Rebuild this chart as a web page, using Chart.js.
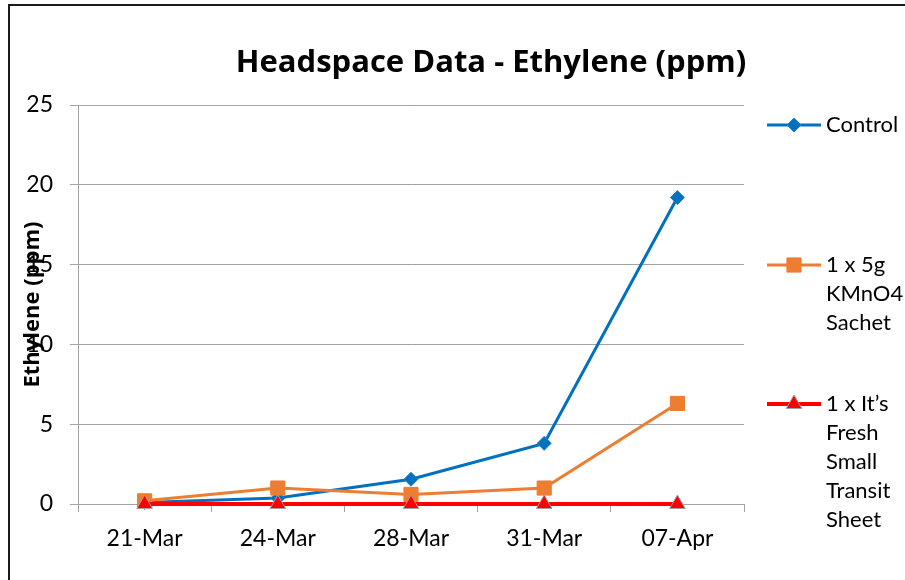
<!DOCTYPE html>
<html>
<head>
<meta charset="utf-8">
<script src="https://cdn.jsdelivr.net/npm/chart.js@4.4.1/dist/chart.umd.min.js"></script>
<style>
  html, body { margin: 0; padding: 0; background: #fff; overflow: hidden; }
  #wrap { position: relative; width: 905px; height: 580px; }
  #frame { position: absolute; left: 8px; top: 4px; width: 920px; height: 600px;
           border: 2px solid #1a1a1a; pointer-events: none; }
</style>
</head>
<body>
<div id="wrap">
  <canvas id="chart" width="905" height="580"></canvas>
  <div id="frame"></div>
</div>
<script>
// ==================== DATA ====================
const DATES = ['21-Mar', '24-Mar', '28-Mar', '31-Mar', '07-Apr'];
const CONTROL = [0.1, 0.37, 1.55, 3.8, 19.2];
const KMNO4 = [0.2, 1.0, 0.6, 1.0, 6.3];
const ITS_FRESH = [0, 0, 0, 0, 0];
const SERIES_NAMES = ['Control', '1 x 5g KMnO4 Sachet', '1 x It\u2019s Fresh Small Transit Sheet'];
const Y_TICKS = [0, 5, 10, 15, 20, 25];

const TITLE = 'Headspace Data - Ethylene (ppm)';
const Y_TITLE = 'Ethylene (ppm)';
const FONT = 'Lato, "Open Sans", sans-serif';
const BOLD_FONT = '"Open Sans", Lato, sans-serif';
const GRID = '#a3a3a3';

// ==================== EXTRA DRAWING ====================
// title, overlapping y-axis title and wrapped legend, Excel style
const extras = {
  id: 'extras',
  afterDraw(chart) {
    const ctx = chart.ctx;
    const area = chart.chartArea;
    ctx.save();
    ctx.fillStyle = '#000';

    // chart title
    ctx.font = 'bold 31px ' + BOLD_FONT;
    ctx.textAlign = 'center';
    ctx.textBaseline = 'middle';
    ctx.fillText(TITLE, 491, 63);

    // y axis title (sits over the tick labels like in the source)
    ctx.save();
    ctx.translate(33, (area.top + area.bottom) / 2);
    ctx.rotate(-Math.PI / 2);
    ctx.font = 'bold 22px ' + BOLD_FONT;
    ctx.fillText(Y_TITLE, 0, 0);
    ctx.restore();

    // legend
    ctx.font = '22px ' + FONT;
    ctx.textAlign = 'left';
    const rowsY = [125, 265, 404];
    chart.data.datasets.forEach((ds, i) => {
      const y = rowsY[i];
      ctx.strokeStyle = ds.borderColor;
      ctx.lineWidth = ds.borderWidth;
      ctx.beginPath();
      ctx.moveTo(767, y);
      ctx.lineTo(821, y);
      ctx.stroke();
      ctx.fillStyle = ds.pointBackgroundColor;
      ctx.strokeStyle = ds.pointBorderColor;
      ctx.lineWidth = ds.pointBorderWidth;
      Chart.helpers.drawPoint(ctx, {
        pointStyle: ds.pointStyle, radius: ds.pointRadius, borderWidth: ds.pointBorderWidth
      }, 794, y);

      // wrap words into lines no wider than the legend column
      const words = ds.label.split(' ');
      const lines = [];
      let cur = '';
      words.forEach(w => {
        const test = cur ? cur + ' ' + w : w;
        if (cur && ctx.measureText(test).width > 86) {
          lines.push(cur);
          cur = w;
        } else {
          cur = test;
        }
      });
      if (cur) lines.push(cur);
      ctx.fillStyle = '#000';
      lines.forEach((line, k) => ctx.fillText(line, 826, y + k * 29));
    });
    ctx.restore();
  }
};

// ==================== CHART ====================
const ctx = document.getElementById('chart').getContext('2d');
new Chart(ctx, {
  type: 'line',
  data: {
    labels: DATES,
    datasets: [
      {
        label: SERIES_NAMES[0],
        data: CONTROL,
        borderColor: '#0070c0',
        borderWidth: 3,
        pointStyle: 'rectRot',
        pointRadius: 7,
        pointBackgroundColor: '#0070c0',
        pointBorderColor: '#2a7fc8',
        pointBorderWidth: 1,
        clip: false,
        order: 3
      },
      {
        label: SERIES_NAMES[1],
        data: KMNO4,
        borderColor: '#ed7d31',
        borderWidth: 3,
        pointStyle: 'rect',
        pointRadius: 10,
        pointBackgroundColor: '#ed7d31',
        pointBorderColor: '#ed7d31',
        pointBorderWidth: 1,
        clip: false,
        order: 2
      },
      {
        label: SERIES_NAMES[2],
        data: ITS_FRESH,
        borderColor: '#ff0000',
        borderWidth: 4,
        pointStyle: 'triangle',
        pointRadius: 9,
        pointBackgroundColor: '#ff0000',
        pointBorderColor: '#a0a0a0',
        pointBorderWidth: 1,
        clip: false,
        order: 1
      }
    ]
  },
  options: {
    responsive: false,
    animation: false,
    layout: { padding: { left: 0, top: 105, right: 161, bottom: 0 } },
    plugins: {
      legend: { display: false },
      title: { display: false },
      tooltip: { enabled: false }
    },
    scales: {
      x: {
        offset: true,
        grid: { offset: true, drawOnChartArea: false, drawTicks: true, tickLength: 8, color: GRID },
        border: { color: GRID, width: 1 },
        ticks: { color: '#000', font: { family: FONT, size: 23 }, padding: 13, maxRotation: 0 },
        afterFit: s => { s.height = 76; }
      },
      y: {
        min: 0,
        max: 25,
        afterBuildTicks: s => { s.ticks = Y_TICKS.map(v => ({ value: v })); },
        grid: { color: GRID, tickLength: 8 },
        border: { color: GRID, width: 1 },
        ticks: { color: '#000', font: { family: FONT, size: 23 }, padding: 17 },
        afterFit: s => { s.width = 78; }
      }
    }
  },
  plugins: [extras]
});
</script>
</body>
</html>
